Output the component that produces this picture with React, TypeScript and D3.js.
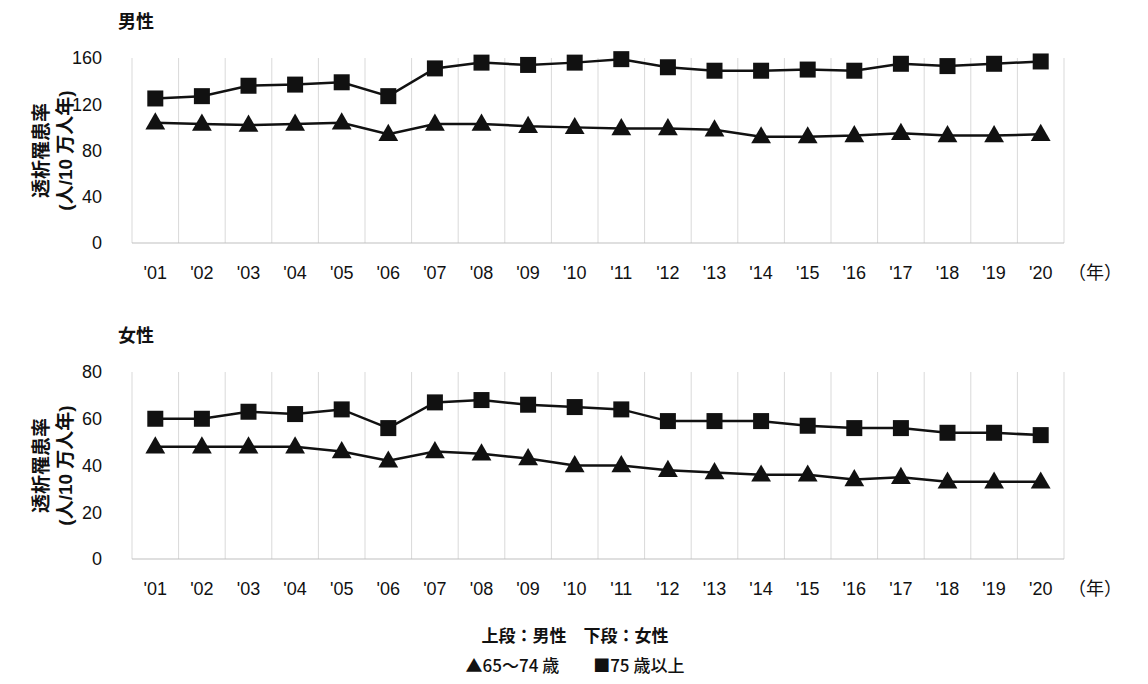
import React from "react";
import * as d3 from "d3";

const years = ["'01","'02","'03","'04","'05","'06","'07","'08","'09","'10","'11","'12","'13","'14","'15","'16","'17","'18","'19","'20"];
const maleOld = [125,127,136,137,139,127,151,156,154,156,159,152,149,149,150,149,155,153,155,157];
const maleYoung = [104,103,102,103,104,94,103,103,101,100,99,99,98,92,92,93,95,93,93,94];
const femaleOld = [60,60,63,62,64,56,67,68,66,65,64,59,59,59,57,56,56,54,54,53];
const femaleYoung = [48,48,48,48,46,42,46,45,43,40,40,38,37,36,36,34,35,33,33,33];
const maleTicks = [0,40,80,120,160];
const femaleTicks = [0,20,40,60,80];

const FONT = "'Liberation Sans', 'Noto Sans CJK JP', sans-serif";
const CJK = "'Noto Sans CJK JP', sans-serif";

function Panel({ title, top, bottom, max, ticks, young, old }: any) {
  const x = d3.scaleBand().domain(years).range([132, 1064]);
  const y = d3.scaleLinear().domain([0, max]).range([bottom, top]);
  const line = d3.line<number>().x((_, i) => x(years[i])! + x.bandwidth() / 2).y(d => y(d));
  const tri = d3.symbol().type(d3.symbolTriangle).size(170)()!;
  const midY = (top + bottom) / 2;
  return (
    <g>
      <text x={118} y={top - 30} fontSize={18} fontWeight="bold">{title}</text>
      {years.map((yr, i) => (
        <line key={yr} x1={x(yr)! + x.bandwidth()} x2={x(yr)! + x.bandwidth()} y1={top} y2={bottom} stroke="#d9d9d9" />
      ))}
      <line x1={132} x2={132} y1={top} y2={bottom} stroke="#d9d9d9" />
      <line x1={132} x2={1064} y1={bottom} y2={bottom} stroke="#bfbfbf" />
      {ticks.map((t: number) => (
        <text key={t} x={102} y={y(t)} dy="0.35em" textAnchor="end" fontSize={18}>{t}</text>
      ))}
      {years.map(yr => (
        <text key={yr} x={x(yr)! + x.bandwidth() / 2} y={bottom + 36} textAnchor="middle" fontSize={18}>{yr}</text>
      ))}
      <text x={1068} y={bottom + 36} fontSize={18}>（年）</text>
      <text transform={`translate(48,${midY}) rotate(-90)`} textAnchor="middle" fontSize={19} fontWeight="bold">透析罹患率</text>
      <text transform={`translate(72,${midY}) rotate(-90)`} textAnchor="middle" fontSize={19} fontWeight="bold">(人/10 万人年)</text>
      <path d={line(old)!} fill="none" stroke="#111" strokeWidth={2.5} />
      <path d={line(young)!} fill="none" stroke="#111" strokeWidth={2.5} />
      {old.map((v: number, i: number) => (
        <rect key={i} x={x(years[i])! + x.bandwidth() / 2 - 8} y={y(v) - 8} width={16} height={16} fill="#111" />
      ))}
      {young.map((v: number, i: number) => (
        <path key={i} d={tri} transform={`translate(${x(years[i])! + x.bandwidth() / 2},${y(v) + 1})`} fill="#111" />
      ))}
    </g>
  );
}

export default function App() {
  return (
    <svg width={1148} height={684} style={{ position: "absolute", left: 0, top: 0, fontFamily: FONT }} fill="#111">
      <rect width={1148} height={684} fill="#fff" />
      <Panel title="男性" top={58} bottom={243} max={160} ticks={maleTicks} young={maleYoung} old={maleOld} />
      <Panel title="女性" top={372} bottom={559} max={80} ticks={femaleTicks} young={femaleYoung} old={femaleOld} />
      <text x={575} y={642} textAnchor="middle" fontSize={17} fontWeight="bold">上段：男性　下段：女性</text>
      <text x={575} y={672} textAnchor="middle" fontSize={17} fontFamily={CJK} fontWeight="500">▲65〜74 歳　　■75 歳以上</text>
    </svg>
  );
}
